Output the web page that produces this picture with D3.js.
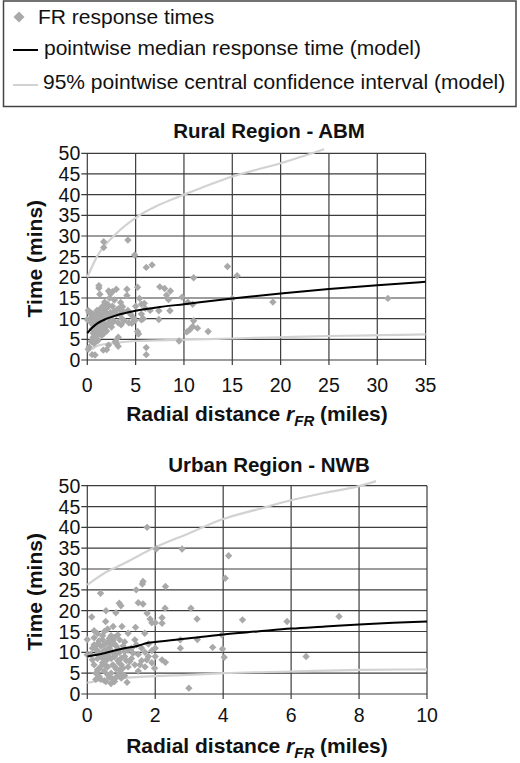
<!DOCTYPE html>
<html lang="en">
<head>
<meta charset="utf-8">
<title>FR response times</title>
<script src="https://d3js.org/d3.v7.min.js"></script>
<style>
body { margin: 0; background: #fff; }
svg text { font-family: "Liberation Sans", Arial, Helvetica, sans-serif; fill: #111; }
</style>
</head>
<body>
<div id="chart"></div>
<script type="text/javascript">

var w = 520;
var h = 763;

// legend entries
var legendLabels = ["FR response times", "pointwise median response time (model)", "95% pointwise central confidence interval (model)"];

// tick values
var yTicks = [0, 5, 10, 15, 20, 25, 30, 35, 40, 45, 50];
var ruralXTicks = [0, 5, 10, 15, 20, 25, 30, 35];
var urbanXTicks = [0, 2, 4, 6, 8, 10];

// Rural Region - ABM : observed response times (miles, mins)
var ruralPoints = [
  [1.7,28.6],[1.7,27.2],[4.2,29.0],[4.9,25.4],[6.1,22.4],[6.7,23.0],[14.5,22.6],[15.5,20.4],
  [11.0,19.9],[31.1,14.9],[19.2,14.0],[15.0,14.9],[9.8,15.2],[10.4,14.0],[10.9,13.5],[11.0,9.5],
  [11.4,7.7],[12.5,6.9],[10.6,7.3],[10.9,8.1],[10.3,6.8],[9.5,4.6],[7.5,17.7],[8.0,17.3],
  [8.6,16.7],[8.2,15.7],[8.4,14.6],[7.4,11.9],[8.55,11.9],[7.4,9.8],[5.2,17.6],[5.4,14.9],
  [5.9,13.7],[5.6,11.1],[5.6,9.7],[4.8,10.1],[4.6,8.9],[5.2,6.9],[5.3,6.3],[6.1,3.0],
  [6.1,1.3],[4.1,17.1],[4.1,15.6],[3.45,13.9],[3.65,12.9],[3.0,17.1],[2.6,16.5],[2.2,16.7],
  [1.3,15.9],[1.2,18.0],[1.2,17.4],[3.0,4.0],[3.2,3.3],[2.2,3.6],[1.65,2.4],[0.8,1.2],
  [0.5,1.3],[0.2,3.1],[0.1,2.6],[0.0,9.8],[0.1,12.0],[0.45,11.3],[0.7,4.0],[1.1,4.7],
  [0.2,11.5],[0.3,10.0],[0.4,9.0],[0.5,7.5],[0.6,6.5],[0.6,5.5],[0.7,8.5],[0.7,11.0],
  [0.8,9.5],[0.8,7.0],[0.9,6.0],[0.9,10.5],[1.0,8.0],[1.0,9.0],[1.0,12.0],[1.1,7.5],
  [1.1,10.0],[1.2,6.5],[1.2,8.5],[1.2,11.0],[1.3,9.5],[1.3,7.0],[1.4,12.5],[1.4,8.0],
  [1.5,10.5],[1.5,6.0],[1.6,9.0],[1.6,13.0],[1.7,7.5],[1.7,11.5],[1.8,10.0],[1.8,14.0],
  [1.9,8.5],[2.0,12.5],[2.0,7.0],[2.1,13.5],[2.2,10.0],[2.3,15.0],[2.4,11.5],[2.5,8.0],
  [2.6,13.0],[2.7,9.5],[2.8,14.5],[3.0,11.0],[3.2,9.0],[3.3,12.5],[3.5,8.5],[3.6,10.0],
  [3.8,9.5],[2.0,2.5],[1.0,5.0],[0.4,4.5],[3.2,5.5],[2.9,4.5],[4.2,12.0],[4.5,11.0],
  [5.0,13.0],[5.6,13.5],[6.0,12.5],[5.8,10.0],[4.9,9.5],[4.3,9.0],[6.5,12.0],[2.4,16.0],
  [0.9,8.2],[1.1,8.8],[1.3,8.2],[1.0,10.8],[1.2,9.8],[1.4,9.2],[0.8,10.2],[0.9,7.2],
  [1.5,8.6],[1.6,10.2],[1.8,11.8],[2.1,11.0],[2.3,9.2],[2.5,10.6],[2.8,11.8],[3.1,12.2],
  [3.4,11.0],[3.7,11.8],[2.2,13.0],[1.9,12.8],[1.5,11.6],[0.6,8.4],[0.5,10.6],[1.3,6.2],
  [1.7,6.4],[0.7,7.4],[2.0,8.2],[2.6,9.0]
];
var ruralMedian = [[0,6.5],[0.5,7.8],[1,8.8],[2,10.0],[3,10.8],[5,11.9],[7.5,12.8],[10,13.5],[15,14.9],[20,16.1],[25,17.2],[30,18.1],[35,18.9]];
var ruralUpper = [[0,20.0],[1,25.0],[3,30.6],[5,34.4],[7.5,37.6],[10,40.0],[15,44.4],[20,47.6],[24.5,51.0]];
var ruralLower = [[0.5,2.6],[1,3.4],[2,3.9],[3,4.2],[5,4.6],[10,4.9],[15,5.2],[20,5.5],[25,5.8],[30,6.0],[35,6.2]];

// Urban Region - NWB : observed response times (miles, mins)
var urbanPoints = [
  [1.76,40.0],[2.03,34.8],[2.79,34.8],[4.16,33.2],[4.06,27.8],[1.64,27.0],[1.62,26.4],[2.3,25.8],
  [1.44,25.0],[0.39,24.2],[1.5,21.9],[1.64,21.6],[0.94,21.8],[0.99,21.2],[2.29,20.6],[3.05,20.6],
  [0.55,20.0],[0.84,19.5],[0.13,18.5],[7.41,18.6],[1.76,19.4],[1.85,18.0],[2.2,18.3],[3.23,18.0],
  [4.57,17.8],[5.88,17.4],[0.54,17.4],[1.9,17.1],[2.0,17.1],[2.2,17.0],[0.76,16.2],[1.02,16.2],
  [1.42,16.0],[1.69,14.6],[0.0,13.1],[3.24,13.1],[2.74,13.0],[3.96,14.2],[2.74,11.0],[3.69,11.2],
  [3.98,10.8],[4.03,8.8],[6.44,9.0],[2.99,1.4],[1.17,2.8],[2.2,8.2],[2.3,7.6],[1.98,6.2],
  [0.0,9.4],[0.1,9.5],[0.15,11.0],[0.2,13.5],[0.2,7.0],[0.25,5.0],[0.3,8.5],[0.3,12.0],
  [0.3,14.5],[0.35,10.0],[0.35,6.0],[0.4,3.5],[0.4,11.5],[0.4,9.0],[0.45,7.5],[0.45,13.0],
  [0.5,5.5],[0.5,10.5],[0.5,15.0],[0.55,8.0],[0.55,3.0],[0.6,12.5],[0.6,6.5],[0.6,9.5],
  [0.65,4.0],[0.65,11.0],[0.7,8.5],[0.7,14.0],[0.7,5.0],[0.75,10.0],[0.75,7.0],[0.8,12.0],
  [0.8,3.0],[0.8,9.0],[0.85,6.0],[0.85,11.5],[0.9,4.5],[0.9,8.0],[0.95,13.0],[0.95,10.0],
  [1.0,7.0],[1.0,5.0],[1.05,11.5],[1.1,9.0],[1.1,12.5],[1.15,8.0],[1.2,6.5],[1.2,10.5],
  [1.3,11.0],[1.3,8.5],[1.4,7.0],[1.4,13.0],[1.5,9.5],[1.5,5.5],[1.6,11.0],[1.6,8.0],
  [1.7,6.5],[1.7,10.0],[1.8,9.0],[1.8,12.0],[1.9,7.5],[2.0,11.0],[2.0,9.0],[0.25,3.5],
  [0.5,3.2],[0.7,2.5],[1.0,3.8],[0.2,15.2],[0.6,15.6],[1.2,14.6],[0.9,14.2],[0.3,5.8],
  [0.25,10.8],[0.35,12.8],[0.45,8.6],[0.5,11.8],[0.55,6.8],[0.6,4.6],[0.65,8.8],[0.7,11.8],
  [0.75,12.8],[0.8,6.6],[0.85,9.6],[0.9,10.8],[0.95,5.8],[1.0,8.6],[1.05,6.2],[1.1,10.2],
  [0.4,6.6],[0.3,9.6],[0.2,11.8],[0.45,14.0],[0.65,13.4],[0.55,9.2],[0.85,4.0],[0.95,7.4],
  [1.25,7.8],[1.35,9.8],[1.45,11.8],[1.55,7.0],[1.75,8.2],[1.9,10.4],[0.35,4.2],[0.75,3.6],
  [1.1,4.4],[0.15,8.2],[0.6,10.8],[0.8,13.6]
];
var urbanMedian = [[0,9.0],[0.5,9.8],[1,10.8],[1.5,11.6],[1.8,12.3],[2,12.5],[3,13.4],[4,14.3],[5,15.0],[6,15.7],[7,16.2],[8,16.7],[9,17.1],[10,17.4]];
var urbanUpper = [[0,26.2],[0.5,29.0],[1,31.0],[2,35.2],[3,38.6],[4,42.0],[5,44.3],[6,46.5],[7,48.3],[8,49.9],[8.5,51.1]];
var urbanLower = [[0,2.7],[0.5,3.4],[1,3.8],[2,4.3],[3,4.6],[4,5.0],[6,5.4],[8,5.8],[10,5.9]];

var svgChart = d3.select("#chart")
  .append("svg")
  .attr("width", w)
  .attr("height", h);

drawLegend();

drawPanel({
  left: 87.3, right: 425.6, top: 153.3, bottom: 360,
  xMax: 35, xTicks: ruralXTicks,
  title: "Rural Region - ABM", titleY: 138, tickY: 392, xTitleY: 421,
  points: ruralPoints, median: ruralMedian, upper: ruralUpper, lower: ruralLower
});

drawPanel({
  left: 87.3, right: 427, top: 485.7, bottom: 694,
  xMax: 10, xTicks: urbanXTicks,
  title: "Urban Region - NWB", titleY: 472, tickY: 722, xTitleY: 753,
  points: urbanPoints, median: urbanMedian, upper: urbanUpper, lower: urbanLower
});

function diamondPath(r){
  return "M0," + (-r) + "L" + r + ",0L0," + r + "L" + (-r) + ",0Z";
}

function drawLegend(){
  var g = svgChart.append("g");
  g.append("rect")
    .attr("x", 3.5).attr("y", 1)
    .attr("width", 512.5).attr("height", 105.5)
    .attr("fill", "none")
    .attr("stroke", "#444")
    .attr("stroke-width", 1.5);

  g.append("path")
    .attr("d", diamondPath(5.5))
    .attr("transform", "translate(19,17)")
    .attr("fill", "#a9a9a9");
  g.append("line")
    .attr("x1", 13).attr("x2", 38).attr("y1", 50).attr("y2", 50)
    .attr("stroke", "#000").attr("stroke-width", 2);
  g.append("line")
    .attr("x1", 13).attr("x2", 38).attr("y1", 85).attr("y2", 85)
    .attr("stroke", "#d2d2d2").attr("stroke-width", 2);

  var tx = [38, 44, 43];
  var ty = [24, 55, 89];
  g.selectAll("text.leg")
    .data(legendLabels)
    .enter()
    .append("text")
    .attr("class", "leg")
    .attr("x", function(d, i){ return tx[i]; })
    .attr("y", function(d, i){ return ty[i]; })
    .style("font-size", "21px")
    .text(function(d){ return d; });
}

function drawPanel(p){
  var xScale = d3.scaleLinear().domain([0, p.xMax]).range([p.left, p.right]);
  var yScale = d3.scaleLinear().domain([0, 50]).range([p.bottom, p.top]);
  var g = svgChart.append("g");

  // grid
  g.selectAll("line.hgrid")
    .data(yTicks)
    .enter().append("line")
    .attr("x1", p.left - 6).attr("x2", p.right)
    .attr("y1", function(d){ return yScale(d); })
    .attr("y2", function(d){ return yScale(d); })
    .attr("stroke", "#3c3c3c").attr("stroke-width", 1.2);
  g.selectAll("line.vgrid")
    .data(p.xTicks)
    .enter().append("line")
    .attr("x1", function(d){ return xScale(d); })
    .attr("x2", function(d){ return xScale(d); })
    .attr("y1", p.top).attr("y2", p.bottom + 5)
    .attr("stroke", "#3c3c3c").attr("stroke-width", 1.2);

  // tick labels
  g.selectAll("text.ytick")
    .data(yTicks)
    .enter().append("text")
    .attr("x", p.left - 7)
    .attr("y", function(d){ return yScale(d) + 7; })
    .attr("text-anchor", "end")
    .style("font-size", "19.5px")
    .text(function(d){ return d; });
  g.selectAll("text.xtick")
    .data(p.xTicks)
    .enter().append("text")
    .attr("x", function(d){ return xScale(d); })
    .attr("y", p.tickY)
    .attr("text-anchor", "middle")
    .style("font-size", "19.5px")
    .text(function(d){ return d; });

  // titles
  g.append("text")
    .attr("x", 269).attr("y", p.titleY)
    .attr("text-anchor", "middle")
    .style("font-size", "20.5px").style("font-weight", "bold")
    .text(p.title);

  var xt = g.append("text")
    .attr("x", 257).attr("y", p.xTitleY)
    .attr("text-anchor", "middle")
    .style("font-size", "21px").style("font-weight", "bold");
  xt.append("tspan").text("Radial distance ");
  xt.append("tspan").style("font-style", "italic").text("r");
  xt.append("tspan").style("font-style", "italic").style("font-size", "15px").attr("dy", 5).text("FR");
  xt.append("tspan").attr("dy", -5).text(" (miles)");

  g.append("text")
    .attr("transform", "translate(42," + ((p.top + p.bottom) / 2 + 2) + ") rotate(-90)")
    .attr("text-anchor", "middle")
    .style("font-size", "21px").style("font-weight", "bold")
    .text("Time (mins)");

  // model curves
  var line = d3.line()
    .x(function(d){ return xScale(d[0]); })
    .y(function(d){ return yScale(d[1]); })
    .curve(d3.curveMonotoneX);

  g.append("path").datum(p.upper)
    .attr("d", line).attr("fill", "none")
    .attr("stroke", "#d2d2d2").attr("stroke-width", 2.2);
  g.append("path").datum(p.lower)
    .attr("d", line).attr("fill", "none")
    .attr("stroke", "#d2d2d2").attr("stroke-width", 2.2);

  // observed points
  g.selectAll("path.pt")
    .data(p.points)
    .enter().append("path")
    .attr("d", diamondPath(3.7))
    .attr("transform", function(d){ return "translate(" + xScale(d[0]) + "," + yScale(d[1]) + ")"; })
    .attr("fill", "#a9a9a9");

  g.append("path").datum(p.median)
    .attr("d", line).attr("fill", "none")
    .attr("stroke", "#000").attr("stroke-width", 2);
}
</script>
</body>
</html>
